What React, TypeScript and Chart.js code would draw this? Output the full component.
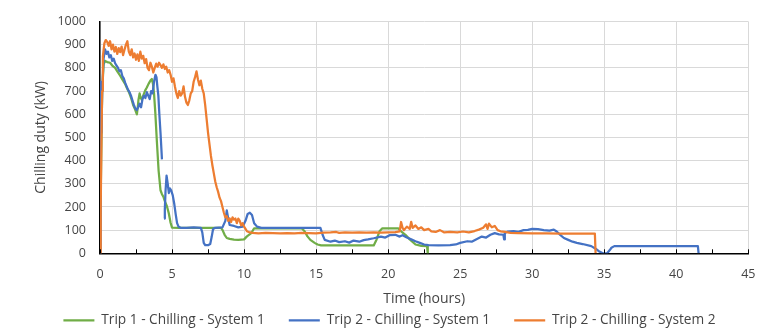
import React, { useEffect, useRef } from "react";
import { Chart, registerables } from "chart.js";

Chart.register(...registerables);

const seriesLabels = [
  "Trip 1 - Chilling - System 1",
  "Trip 2 - Chilling - System 1",
  "Trip 2 - Chilling - System 2",
];
const seriesColors = ["#70AD47", "#4472C4", "#ED7D31"];

const trip1Sys1Hours = [
  0, 0.08, 0.15, 0.25, 0.35, 0.5, 0.7, 0.85, 1.05, 1.2, 1.4, 1.55, 1.74, 1.85, 2.0, 2.1, 2.2, 2.3, 2.44,
  2.56, 2.62, 2.67, 2.75, 2.8, 2.9, 3.0, 3.14, 3.25, 3.37, 3.5, 3.6, 3.68, 3.75, 3.84, 3.95, 4.07, 4.2,
  4.3, 4.4, 4.5, 4.65, 4.77, 4.9, 5.0, 5.5, 6.0, 7.0, 8.4, 8.5, 8.65, 8.8, 9.0, 9.3, 9.6, 10.0, 10.2,
  10.5, 10.7, 11.0, 14.0, 14.2, 14.4, 14.6, 14.9, 15.1, 15.35, 19.0, 19.2, 19.4, 19.6, 20.7, 20.9, 21.2,
  21.5, 21.9, 22.3, 22.7, 22.75,
];
const trip1Sys1Kw = [
  0, 400, 700, 815, 830, 825, 822, 810, 800, 785, 766, 750, 731, 715, 696, 680, 662, 640, 620,
  599, 630, 662, 690, 675, 662, 680, 703, 715, 731, 745, 752, 730, 690, 606, 480, 355, 272,
  255, 244, 225, 202, 174, 132, 111, 110, 110, 110, 110, 101, 80, 66, 62, 59, 58, 60, 73,
  87, 108, 108, 108, 95, 73, 58, 45, 38, 34, 34, 60, 95, 108, 108, 95, 80,
  60, 38, 32, 31, 0,
];

const trip2Sys1Hours = [
  0, 0.03, 0.06, 0.1, 0.15, 0.25, 0.35, 0.45, 0.55, 0.65, 0.75, 0.85, 0.95, 1.05, 1.15, 1.25, 1.35,
  1.45, 1.55, 1.65, 1.75, 1.85, 1.95, 2.05, 2.15, 2.25, 2.35, 2.45, 2.55, 2.65, 2.75, 2.85, 2.95, 3.05,
  3.15, 3.25, 3.35, 3.45, 3.55, 3.65, 3.75, 3.85, 3.92, 3.98, 4.05, 4.12, 4.2, 4.3, 4.38, 4.45, 4.5,
  4.55, 4.62, 4.7, 4.78, 4.85, 4.95, 5.05, 5.15, 5.25, 5.35, 5.45, 5.6, 6.0, 6.5, 7.0, 7.1, 7.2, 7.3,
  7.5, 7.65, 7.75, 7.85, 8.0, 8.5, 8.7, 8.8, 8.9, 9.0, 9.3, 9.6, 9.9, 10.1, 10.25, 10.4, 10.55, 10.7,
  10.9, 11.2, 13.0, 15.3, 15.45, 15.6, 16.0, 16.3, 16.6, 17.0, 17.3, 17.6, 18.0, 18.3, 18.6, 19.0,
  19.5, 19.8, 20.1, 20.5, 20.8, 21.0, 21.3, 21.6, 21.9, 22.2, 22.5, 22.8, 23.5, 24.3, 24.7, 25.0,
  25.5, 25.8, 26.1, 26.5, 26.8, 27.1, 27.4, 27.7, 28.0, 28.05, 28.1, 28.3, 28.7, 29.0, 29.4, 29.7,
  30.0, 30.4, 30.8, 31.2, 31.5, 31.7, 31.9, 32.2, 32.5, 32.8, 33.1, 33.5, 34.1, 34.4, 34.6, 34.9,
  35.2, 35.4, 35.5, 35.7, 41.5, 41.55,
];
const trip2Sys1Kw = [
  0, 550, 740, 520, 700, 840, 880, 860, 870, 845, 855, 830, 840, 820, 810, 800, 785,
  790, 765, 755, 735, 720, 705, 695, 680, 660, 640, 625, 618, 630, 645, 630, 665, 680,
  670, 695, 680, 665, 700, 690, 740, 770, 760, 720, 680, 600, 520, 405, null, 150, 190,
  270, 335, 300, 260, 280, 270, 250, 215, 170, 130, 115, 110, 110, 112, 110, 90, 45, 35,
  35, 40, 70, 105, 110, 112, 140, 185, 150, 122, 118, 112, 115, 140, 170, 175, 165, 130,
  115, 110, 110, 110, 80, 58, 50, 55, 48, 52, 46, 55, 50, 57, 60, 65,
  72, 68, 78, 80, 72, 78, 68, 60, 52, 45, 38, 35, 34, 35, 38, 45,
  52, 50, 60, 72, 68, 80, 87, 82, 80, 60, 88, 94, 96, 92, 100, 101,
  105, 104, 100, 98, 102, 94, 82, 66, 58, 50, 45, 40, 31, 20, 10, 0,
  0, 15, 24, 31, 31, 0,
];

const trip2Sys2Hours = [
  0, 0.05, 0.1, 0.15, 0.2, 0.3, 0.4, 0.5, 0.6, 0.7, 0.8, 0.9, 1.0, 1.1, 1.2, 1.3, 1.4, 1.5, 1.6, 1.7,
  1.8, 1.9, 2.0, 2.1, 2.2, 2.3, 2.4, 2.5, 2.6, 2.7, 2.8, 2.9, 3.0, 3.1, 3.2, 3.3, 3.4, 3.5, 3.6, 3.7,
  3.8, 3.9, 4.0, 4.1, 4.2, 4.3, 4.4, 4.5, 4.6, 4.7, 4.8, 4.9, 5.0, 5.1, 5.2, 5.3, 5.4, 5.5, 5.6, 5.7,
  5.8, 5.9, 6.0, 6.1, 6.2, 6.3, 6.4, 6.5, 6.6, 6.7, 6.8, 6.9, 7.0, 7.1, 7.2, 7.3, 7.4, 7.5, 7.6, 7.7,
  7.8, 7.9, 8.0, 8.1, 8.2, 8.3, 8.4, 8.5, 8.6, 8.7, 8.8, 8.9, 9.0, 9.1, 9.2, 9.3, 9.4, 9.5, 9.6, 9.7,
  9.8, 9.9, 10.0, 10.1, 10.2, 10.4, 10.6, 11.0, 11.5, 12.0, 12.5, 13.0, 13.5, 14.0, 14.5, 15.0, 15.5,
  16.0, 16.4, 16.6, 17.0, 17.5, 18.0, 18.5, 19.0, 19.5, 20.0, 20.5, 20.8, 20.9, 21.0, 21.1, 21.3,
  21.5, 21.6, 21.7, 21.9, 22.1, 22.3, 22.5, 22.8, 23.0, 23.3, 23.6, 23.9, 24.3, 24.8, 25.2, 25.6,
  26.0, 26.3, 26.6, 26.8, 26.9, 27.0, 27.2, 27.4, 27.6, 27.8, 28.1, 28.5, 29.0, 30.0, 31.0, 32.0,
  33.0, 34.0, 34.35, 34.4,
];
const trip2Sys2Kw = [
  0, 200, 480, 700, 850, 905, 920, 912, 895, 915, 880, 900, 870, 890, 860, 885, 868, 892, 855, 878,
  900, 915, 870, 855, 880, 845, 862, 835, 858, 830, 870, 840, 852, 820, 838, 800, 790, 822, 805, 780,
  800, 818, 805, 822, 812, 800, 815, 795, 805, 780, 790, 770, 740, 755, 720, 690, 670, 700, 680, 690,
  720, 675, 650, 640, 660, 690, 700, 740, 760, 785, 750, 725, 745, 710, 690, 640, 580, 520, 470, 420,
  380, 345, 310, 285, 265, 240, 225, 200, 175, 155, 160, 140, 150, 135, 155, 145, 150, 130, 150, 140,
  120, 130, 115, 105, 95, 90, 88, 86, 88, 87, 86, 87, 86, 88, 87, 86, 89,
  90, 92, 88, 90, 89, 90, 89, 90, 89, 90, 91, 95, 135, 110, 100, 115,
  105, 136, 110, 120, 105, 112, 100, 105, 95, 92, 100, 90, 92, 90, 94, 90,
  96, 102, 110, 125, 105, 128, 112, 118, 100, 95, 92, 88, 87, 86, 86, 85,
  85, 85, 85, 0,
];

const xMin = 0;
const xMax = 45;
const xStep = 5;
const xMinorStep = 2.5;
const yMin = 0;
const yMax = 1000;
const yStep = 100;
const xTitle = "Time (hours)";
const yTitle = "Chilling duty (kW)";

const toPoints = (hours: number[], kw: (number | null)[]) => hours.map((h, i) => ({ x: h, y: kw[i] }));

const FONT = "'Open Sans', 'Liberation Sans', sans-serif";
const TEXT = "#454545";

const innerTicks = {
  id: "innerTicks",
  afterDraw(chart: any) {
    const xs = chart.scales.x;
    const { bottom } = chart.chartArea;
    const ctx = chart.ctx;
    ctx.save();
    ctx.strokeStyle = "#000";
    ctx.lineWidth = 1;
    for (let v = xMin; v <= xMax + 1e-9; v += xMinorStep) {
      const px = Math.round(xs.getPixelForValue(v)) + 0.5;
      ctx.beginPath();
      ctx.moveTo(px, bottom - 4);
      ctx.lineTo(px, bottom);
      ctx.stroke();
    }
    ctx.restore();
  },
};

export default function App() {
  const ref = useRef<HTMLCanvasElement>(null);
  useEffect(() => {
    document.body.style.margin = "0";
    const series = [
      toPoints(trip1Sys1Hours, trip1Sys1Kw),
      toPoints(trip2Sys1Hours, trip2Sys1Kw),
      toPoints(trip2Sys2Hours, trip2Sys2Kw),
    ];
    const chart = new Chart(ref.current as HTMLCanvasElement, {
      type: "line",
      data: {
        datasets: series.map((d, i) => ({
          label: seriesLabels[i],
          data: d as any,
          borderColor: seriesColors[i],
          backgroundColor: seriesColors[i],
          borderWidth: 2.25,
          pointRadius: 0,
          tension: 0,
          borderJoinStyle: "round" as const,
          order: 3 - i,
        })),
      },
      options: {
        animation: false,
        responsive: false,
        devicePixelRatio: 1,
        parsing: false as any,
        layout: { padding: { top: 16, right: 0, left: 0, bottom: 0 } },
        plugins: {
          tooltip: { enabled: false },
          legend: {
            position: "bottom",
            maxHeight: 42.5,
            labels: {
              usePointStyle: true,
              pointStyle: "line",
              pointStyleWidth: 31,
              padding: 24,
              color: TEXT,
              font: { family: FONT, size: 13.7 },
              sort: (a: any, b: any) => a.datasetIndex - b.datasetIndex,
            },
          } as any,
        },
        scales: {
          x: {
            type: "linear",
            min: xMin,
            max: xMax,
            ticks: { stepSize: xStep, padding: 14, color: TEXT, font: { family: FONT, size: 12.5 } },
            grid: { color: "#d9d9d9", lineWidth: 1, drawTicks: false },
            border: { display: true, color: "#000", width: 1.5 },
            title: {
              display: true,
              text: xTitle,
              color: TEXT,
              font: { family: FONT, size: 14 },
              padding: { top: 0, bottom: -17.6 },
            },
            afterFit: (scale: any) => {
              scale.height = 36.2;
            },
          },
          y: {
            type: "linear",
            min: yMin,
            max: yMax,
            ticks: {
              stepSize: yStep,
              padding: 14,
              color: TEXT,
              font: { family: FONT, size: 12.5 },
              callback: (v: any) => String(v),
            },
            grid: { color: "#d9d9d9", lineWidth: 1, drawTicks: false },
            border: { display: true, color: "#000", width: 1.5 },
            title: {
              display: true,
              text: yTitle,
              color: TEXT,
              font: { family: FONT, size: 14 },
              padding: { top: 32.6, bottom: 0 },
            },
            afterFit: (scale: any) => {
              scale.width = 100;
            },
          },
          rightSpace: {
            type: "linear",
            position: "right",
            display: true,
            ticks: { display: false },
            grid: { display: false, drawTicks: false },
            border: { display: false },
            afterFit: (scale: any) => {
              scale.width = 30.7;
            },
          },
        },
      },
      plugins: [innerTicks],
    });
    return () => chart.destroy();
  }, []);
  return (
    <div style={{ width: 779, height: 332 }}>
      <canvas ref={ref} width={779} height={332} />
    </div>
  );
}
